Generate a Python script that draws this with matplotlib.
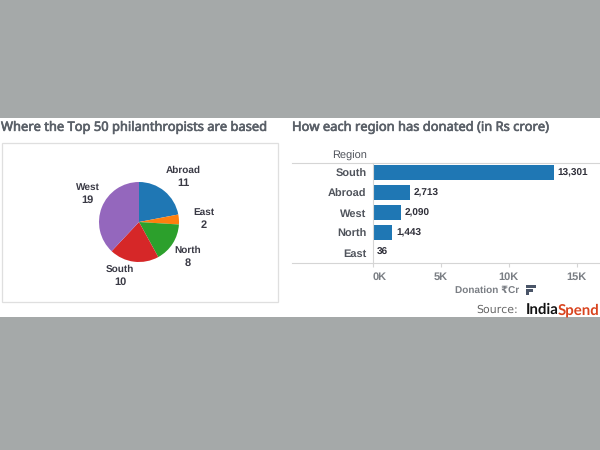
import matplotlib
matplotlib.use("Agg")
import matplotlib.pyplot as plt
import matplotlib.patheffects as pe
from matplotlib.patches import Rectangle

plt.rcParams['font.family'] = ['Liberation Sans', 'DejaVu Sans']
plt.rcParams['text.hinting'] = 'no_hinting'
plt.rcParams['text.hinting_factor'] = 1

pie_labels = ['Abroad', 'East', 'North', 'South', 'West']
pie_values = [11, 2, 8, 10, 19]
pie_colors = ['#1f77b4', '#ff7f0e', '#2ca02c', '#d62728', '#9467bd']
pie_label_px = [(183, 176.5), (204, 218.5), (188, 256.5), (120, 275.5), (87.5, 193.5)]

bar_regions = ['South', 'Abroad', 'West', 'North', 'East']
bar_values = [13301, 2713, 2090, 1443, 36]
bar_ticks = [0, 5000, 10000, 15000]
bar_tick_labels = ['0K', '5K', '10K', '15K']

BG = '#A5A9A9'
W, H = 600, 450
fig = plt.figure(figsize=(W / 100, H / 100), dpi=100, facecolor=BG)

# pixel-space overlay
ov = fig.add_axes([0, 0, 1, 1], zorder=0)
ov.set_xlim(0, W)
ov.set_ylim(H, 0)
ov.axis('off')
ov.add_patch(Rectangle((0, 118), W, 199, fc='white', ec='none'))
ov.add_patch(Rectangle((1.5, 142.5), 276, 159.5, fc='white', ec='#DFDFDF', lw=0.9))

title_c = '#5A6068'
heavy = [pe.withStroke(linewidth=0.45, foreground=title_c)]
ov.text(1, 127.5, 'Where the Top 50 philanthropists are based', fontsize=9.3,
        family=['Noto Sans'], color=title_c, va='center', ha='left', path_effects=heavy)
ov.text(292, 127.5, 'How each region has donated (in Rs crore)', fontsize=9.3,
        family=['Noto Sans'], color=title_c, va='center', ha='left', path_effects=heavy)

# pie
R = 40
cx, cy = 139, 222
pa = fig.add_axes([(cx - R) / W, 1 - (cy + R) / H, 2 * R / W, 2 * R / H], zorder=1)
pa.pie(pie_values, colors=pie_colors, startangle=90, counterclock=False, radius=1,
       wedgeprops=dict(linewidth=0))
pa.set_xlim(-1, 1)
pa.set_ylim(-1, 1)

for name, val, (x, y) in zip(pie_labels, pie_values, pie_label_px):
    ov.text(x, y - 6.5, name, fontsize=7.5, fontweight='bold', color='#3A3A45', ha='center', va='center')
    ov.text(x, y + 6.5, str(val), fontsize=7.8, fontweight='bold', color='#3A3A45', ha='center', va='center')

# bars
x0, px_per = 372.7, 68 / 5000
top, bottom = 162.5, 262.5
ba = fig.add_axes([x0 / W, 1 - bottom / H, (W - x0) / W, (bottom - top) / H], zorder=1)
ba.patch.set_alpha(0)
ypos = list(range(len(bar_regions)))
ba.barh(ypos, bar_values, height=0.75, color='#1f77b4')
ba.set_xlim(0, (W - x0) / px_per)
ba.set_ylim(len(bar_regions) - 0.5, -0.5)
ba.set_yticks(ypos)
ba.set_yticklabels(bar_regions, fontsize=7.6, fontweight='bold', color='#50545C')
ba.tick_params(axis='y', length=0, pad=4.5)
ba.set_xticks(bar_ticks)
ba.set_xticklabels(bar_tick_labels, fontsize=8, fontweight='bold', color='#7A7E84')
ba.tick_params(axis='x', length=3, color='#D5D5D5', width=0.8, pad=3.5)
ba.get_xticklabels()[0].set_ha('left')
for s in ['top', 'right', 'bottom']:
    ba.spines[s].set_visible(False)
ba.spines['left'].set_color('#D5D5D5')
ba.spines['left'].set_linewidth(0.8)
for y, v in zip(ypos, bar_values):
    ba.annotate(f'{v:,}', (v, y), xytext=(2.8, 0), textcoords='offset points',
                fontsize=7.5, fontweight='bold', color='#30303A', va='center', ha='left')

ov.plot([292, 600], [162.5, 162.5], color='#D5D5D5', lw=0.8)
ov.plot([292, 600], [262.5, 262.5], color='#D5D5D5', lw=0.8)
ov.text(366.5, 155.5, 'Region', fontsize=8, color='#50545C', ha='right', va='center')
ov.text(455, 290, 'Donation ₹Cr', fontsize=7.2, fontweight='bold', color='#7A7E84', ha='left', va='center')

# sort icon
for yy, ww in [(284.7, 10), (288.5, 7), (292.3, 3)]:
    ov.add_patch(Rectangle((525.7, yy), ww, 3, fc='#4A5568', ec='none'))

# source
ov.text(476.5, 310, 'Source:', fontsize=7.6, family=['DejaVu Sans'], color='#666666', ha='left', va='center')
ov.text(526, 310, 'India', fontsize=11, family=['Lato'],
        fontweight='bold', color='#111111', ha='left', va='center')
ov.text(558, 310, 'Spend', fontsize=11, family=['Lato'],
        fontweight='bold', color='#D9431E', ha='left', va='center')

fig.savefig('out.png', dpi=100, facecolor=BG)
